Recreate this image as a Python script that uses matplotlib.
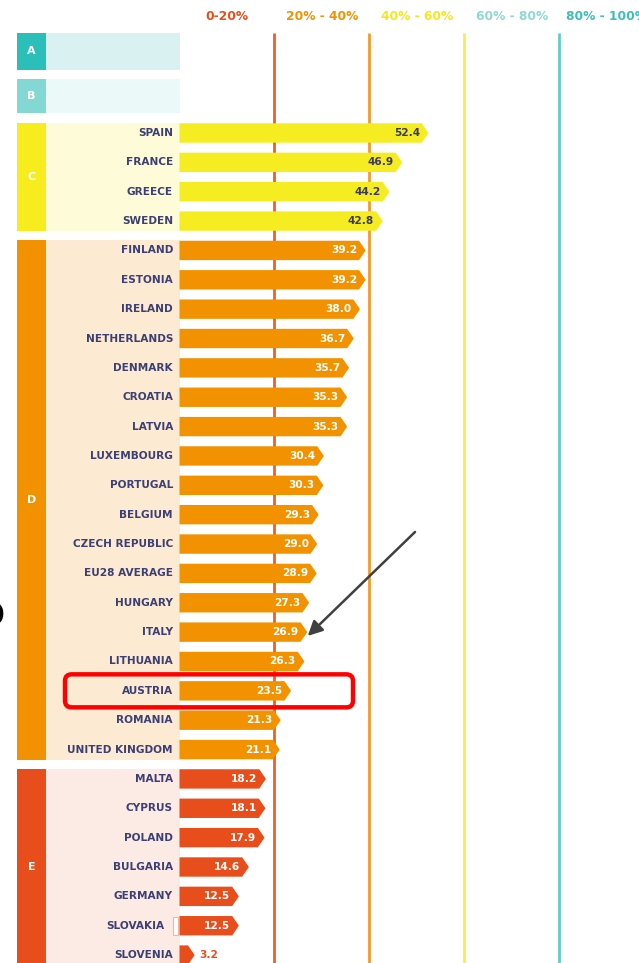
import matplotlib.pyplot as plt
from matplotlib.patches import Polygon, Rectangle, FancyBboxPatch

# data
countries = ['SPAIN', 'FRANCE', 'GREECE', 'SWEDEN',
             'FINLAND', 'ESTONIA', 'IRELAND', 'NETHERLANDS', 'DENMARK', 'CROATIA',
             'LATVIA', 'LUXEMBOURG', 'PORTUGAL', 'BELGIUM', 'CZECH REPUBLIC',
             'EU28 AVERAGE', 'HUNGARY', 'ITALY', 'LITHUANIA', 'AUSTRIA', 'ROMANIA',
             'UNITED KINGDOM',
             'MALTA', 'CYPRUS', 'POLAND', 'BULGARIA', 'GERMANY', 'SLOVAKIA', 'SLOVENIA']
values = [52.4, 46.9, 44.2, 42.8,
          39.2, 39.2, 38.0, 36.7, 35.7, 35.3, 35.3, 30.4, 30.3, 29.3, 29.0,
          28.9, 27.3, 26.9, 26.3, 23.5, 21.3, 21.1,
          18.2, 18.1, 17.9, 14.6, 12.5, 12.5, 3.2]
group_names = ['C', 'D', 'E']
group_sizes = [4, 18, 7]
band_labels = ['0-20%', '20% - 40%', '40% - 60%', '60% - 80%', '80% - 100%']
thresholds = [20, 40, 60, 80]

# colours
strip_col = {'A': '#2BBFB9', 'B': '#84D8D3', 'C': '#F6EC1E', 'D': '#F39200', 'E': '#E84E1B'}
panel_col = {'A': '#D9F2F1', 'B': '#ECF9F9', 'C': '#FEFCD8', 'D': '#FDEAD2', 'E': '#FCEAE4'}
bar_col = {'C': '#F6EC22', 'D': '#F39200', 'E': '#E84E1B'}
val_col = {'C': '#3B3B5E', 'D': 'white', 'E': 'white'}
band_col = ['#E84E1B', '#F39200', '#F3E81E', '#8FD9D5', '#3DBFB8']
line_col = ['#E8622A', '#F39A2A', '#F6EE50', '#5ECFC8']
navy = '#3B3F73'

W, H = 639, 963
PX0, PXS = 179.5, 4.75      # pixel of 0 %, pixels per %
ROW0, ROWH = 133, 29.36     # pixel of first row, pixels per row

def px2x(p):
    return (p - PX0) / PXS

def px2r(p):
    return (p - ROW0) / ROWH

fig = plt.figure(figsize=(W / 100, H / 100), dpi=100)
ax = fig.add_axes([0, 0, 1, 1])
ax.set_xlim(px2x(0), px2x(W))
ax.set_ylim(px2r(H), px2r(0))
ax.axis('off')

# header + threshold lines
for i, lab in enumerate(band_labels):
    ax.text(10 + 20 * i, px2r(17), lab, ha='center', va='center', fontsize=8.8,
            fontweight='bold', color=band_col[i])
for t, c in zip(thresholds, line_col):
    ax.vlines(t, px2r(33), px2r(H), color=c, lw=2, zorder=1)

strip_x0, strip_x1, panel_x1 = px2x(17), px2x(46), px2x(180)

# empty A and B rows
for g, top, bot in [('A', 33, 70), ('B', 79, 113)]:
    ax.add_patch(Rectangle((strip_x0, px2r(top)), strip_x1 - strip_x0, px2r(bot) - px2r(top),
                           color=strip_col[g], lw=0, zorder=2))
    ax.add_patch(Rectangle((strip_x1, px2r(top)), panel_x1 - strip_x1, px2r(bot) - px2r(top),
                           color=panel_col[g], lw=0, zorder=2))
    ax.text((strip_x0 + strip_x1) / 2, (px2r(top) + px2r(bot)) / 2, g, ha='center',
            va='center', color='white', fontsize=8, fontweight='bold', zorder=4)

# group boxes
start = 0
row_group = []
for g, n in zip(group_names, group_sizes):
    r0, r1 = start - 0.34, start + n - 1 + 0.34
    ax.add_patch(Rectangle((strip_x0, r0), strip_x1 - strip_x0, r1 - r0,
                           color=strip_col[g], lw=0, zorder=2))
    ax.add_patch(Rectangle((strip_x1, r0), panel_x1 - strip_x1, r1 - r0,
                           color=panel_col[g], lw=0, zorder=2))
    ax.text((strip_x0 + strip_x1) / 2, (r0 + r1) / 2, g, ha='center', va='center',
            color='white', fontsize=8, fontweight='bold', zorder=4)
    row_group += [g] * n
    start += n

# bars with pointed tips
half = 0.33
tip = 1.4
for r, (name, v, g) in enumerate(zip(countries, values, row_group)):
    body = max(v - tip, 0.3)
    ax.add_patch(Polygon([(0, r - half), (body, r - half), (v, r), (body, r + half),
                          (0, r + half)], closed=True, color=bar_col[g], lw=0, zorder=3))
    lx = px2x(173)
    if name == 'SLOVAKIA':
        ax.add_patch(Rectangle((px2x(172.7), r - 0.3), px2x(178.3) - px2x(172.7), 0.6,
                               facecolor='white', edgecolor='#F2B6A4', lw=0.8, zorder=3))
        lx = px2x(164.5)
    ax.text(lx, r, name, ha='right', va='center', fontsize=7.6, fontweight='bold',
            color=navy, zorder=4)
    if v < 6:
        ax.text(v + 0.9, r, f'{v:.1f}', ha='left', va='center', fontsize=7.6,
                fontweight='bold', color=bar_col[g], zorder=4)
    else:
        ax.text(v - 1.8, r, f'{v:.1f}', ha='right', va='center', fontsize=7.6,
                fontweight='bold', color=val_col[g], zorder=4)

# highlight around Austria
ra = countries.index('AUSTRIA')
x0, x1 = px2x(65), px2x(353)
hb = 16.5 / ROWH
ax.add_patch(FancyBboxPatch((x0, ra - hb), x1 - x0, 2 * hb,
                            boxstyle='round,pad=0,rounding_size=1.4',
                            mutation_aspect=PXS / ROWH,
                            facecolor='none', edgecolor='#FF0000', lw=3.2, zorder=5))

# arrow pointing at Italy
ri = countries.index('ITALY')
ax.annotate('', xy=(values[ri] + 0.1, ri + 0.13), xytext=(px2x(415), px2r(532)),
            arrowprops=dict(arrowstyle='-|>', color='#404040', lw=1.8,
                            mutation_scale=22, shrinkA=0, shrinkB=0), zorder=6)

# cut-off letter at the left edge
ax.text(px2x(5), px2r(614), 'o', ha='right', va='center', fontsize=34,
        fontweight='bold', color='black')

fig.savefig('out.png', dpi=100)
